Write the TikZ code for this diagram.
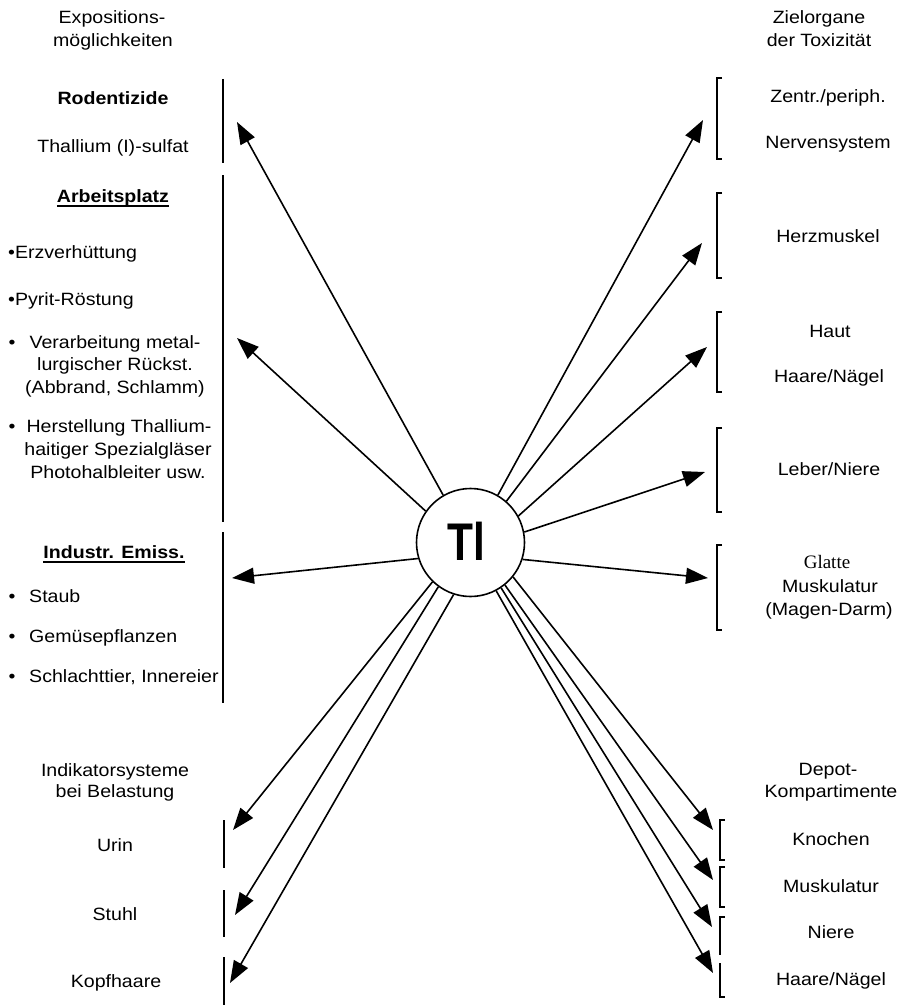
\documentclass[tikz,border=0pt]{standalone}
\usepackage{fontspec}
\setmainfont[FakeStretch=1.1]{Liberation Sans}
\newfontfamily\tlfont[FakeStretch=0.8]{Liberation Sans}
\newfontfamily\glattefont{Liberation Serif}
\usetikzlibrary{arrows.meta}
\newcommand{\lblsize}{\fontsize{17.8}{22}\selectfont}
\begin{document}
\begin{tikzpicture}[x=1pt,y=-1pt,
  txt/.style={inner sep=0pt, anchor=base, font=\lblsize},
  txtw/.style={inner sep=0pt, anchor=base west, font=\lblsize},
  arr/.style={line width=1.6pt, -{Triangle[length=22pt,width=16pt]}},
  bar/.style={line width=1.6pt},
  uline/.style={line width=1.4pt}]
\useasboundingbox (0,0) rectangle (905,1006);

% ---------- centre ----------
\node[circle, draw, line width=1.6pt, minimum size=108pt, inner sep=0pt] (tl) at (470.5,542.5) {};
\node[inner sep=0pt, anchor=base, font=\tlfont\bfseries\fontsize{53}{53}\selectfont] (tltext) at (466,560) {Tl};

% ---------- left column ----------
\node[txt] (exp1) at (112,24) {Expositions-};
\node[txt] (exp2) at (113,47) {möglichkeiten};
\node[txt] (rod) at (113,105) {\textbf{Rodentizide}};
\node[txt] (thal) at (113,152) {Thallium (I)-sulfat};
\node[txt] (arb) at (113,202) {\textbf{Arbeitsplatz}};
\draw[uline] ([yshift=-4pt]arb.base west) -- ([yshift=-4pt]arb.base east);
\node[txtw] (erz) at (8,258) {•Erzverhüttung};
\node[txtw] (pyr) at (8,305) {•Pyrit-Röstung};
\node[txt] (b1) at (12,348) {•};
\node[txt] (ver1) at (115,348) {Verarbeitung metal-};
\node[txt] (ver2) at (115,370) {lurgischer Rückst.};
\node[txt] (ver3) at (115,393) {(Abbrand, Schlamm)};
\node[txt] (b2) at (12,432) {•};
\node[txt] (her1) at (119,432) {Herstellung Thallium-};
\node[txt] (her2) at (118,455) {haitiger Spezialgläser};
\node[txt] (her3) at (118,478) {Photohalbleiter usw.};
\node[txt] (ind) at (114,558) {\textbf{Industr. Emiss.}};
\draw[uline] ([yshift=-4pt]ind.base west) -- ([yshift=-4pt]ind.base east);
\node[txt] (b3) at (12,602) {•};
\node[txtw] (stb) at (29,602) {Staub};
\node[txt] (b4) at (12,642) {•};
\node[txtw] (gem) at (29,642) {Gemüsepflanzen};
\node[txt] (b5) at (12,682) {•};
\node[txtw] (sch) at (29,682) {Schlachttier, Innereier};
\node[txt] (ik1) at (115,776) {Indikatorsysteme};
\node[txt] (ik2) at (115,797) {bei Belastung};
\node[txt] (urin) at (115,851) {Urin};
\node[txt] (stuhl) at (115,920) {Stuhl};
\node[txt] (kopf) at (116,987) {Kopfhaare};

% left bars
\draw[bar] (223,79) -- (223,163);
\draw[bar] (223,175) -- (223,522);
\draw[bar] (223,532) -- (223,703);
\draw[bar] (224,820) -- (224,868);
\draw[bar] (224,890) -- (224,937);
\draw[bar] (224,957) -- (224,1005);

% ---------- right column ----------
\node[txt] (zo1) at (819,24) {Zielorgane};
\node[txt] (zo2) at (819,47) {der Toxizität};
\node[txt] (zp) at (828,103) {Zentr./periph.};
\node[txt] (ns) at (828,149) {Nervensystem};
\node[txt] (hm) at (828,242) {Herzmuskel};
\node[txt] (haut) at (830,337) {Haut};
\node[txt] (hn) at (829,382) {Haare/Nägel};
\node[txt] (ln) at (829,475) {Leber/Niere};
\node[txt, font=\glattefont\fontsize{19}{22}\selectfont] (gl) at (827,568) {Glatte};
\node[txt] (mu) at (830,592) {Muskulatur};
\node[txt] (md) at (829,615) {(Magen-Darm)};
\node[txt] (dp1) at (828,775) {Depot-};
\node[txt] (dp2) at (831,797) {Kompartimente};
\node[txt] (kn) at (831,845) {Knochen};
\node[txt] (mk) at (831,892) {Muskulatur};
\node[txt] (ni) at (831,938) {Niere};
\node[txt] (hn2) at (831,985) {Haare/Nägel};

% right brackets
\draw[bar] (722,78) -- (717,78) -- (717,159) -- (722,159);
\draw[bar] (722,193) -- (717,193) -- (717,278) -- (722,278);
\draw[bar] (722,312) -- (717,312) -- (717,392) -- (722,392);
\draw[bar] (722,428) -- (717,428) -- (717,512) -- (722,512);
\draw[bar] (722,545) -- (717,545) -- (717,630) -- (722,630);
\draw[bar] (725,820) -- (720,820) -- (720,860) -- (725,860);
\draw[bar] (725,867) -- (720,867) -- (720,907) -- (725,907);
\draw[bar] (725,917) -- (720,917) -- (720,955);
\draw[bar] (720,963) -- (720,997) -- (725,997);

% ---------- arrow tips ----------
\coordinate (tRod) at (237,122);
\coordinate (tArb) at (237,338);
\coordinate (tInd) at (232,578);
\coordinate (tUrin) at (233,830);
\coordinate (tStuhl) at (235,915);
\coordinate (tKopf) at (230,983);
\coordinate (tNerv) at (703,120);
\coordinate (tHerz) at (702,243);
\coordinate (tHaut) at (707,347);
\coordinate (tLeber) at (705,472);
\coordinate (tGlatt) at (708,578);
\coordinate (tKn) at (713,830);
\coordinate (tMk) at (713,880);
\coordinate (tNi) at (712,927);
\coordinate (tHa) at (713,973);

% ---------- arrows ----------
\draw[arr] (tl.120) -- (tRod);
\draw[arr] (tl.145) -- (tArb);
\draw[arr] (tl.197) -- (tInd);
\draw[arr] (tl.226) -- (tUrin);
\draw[arr] (tl.234) -- (tStuhl);
\draw[arr] (tl.252) -- (tKopf);
\draw[arr] (tl.60) -- (tNerv);
\draw[arr] (tl.49) -- (tHerz);
\draw[arr] (tl.29) -- (tHaut);
\draw[arr] (tl.11) -- (tLeber);
\draw[arr] (tl.-18) -- (tGlatt);
\draw[arr] (tl.-39) -- (tKn);
\draw[arr] (tl.-51) -- (tMk);
\draw[arr] (tl.-56) -- (tNi);
\draw[arr] (tl.-62) -- (tHa);
\end{tikzpicture}
\end{document}
